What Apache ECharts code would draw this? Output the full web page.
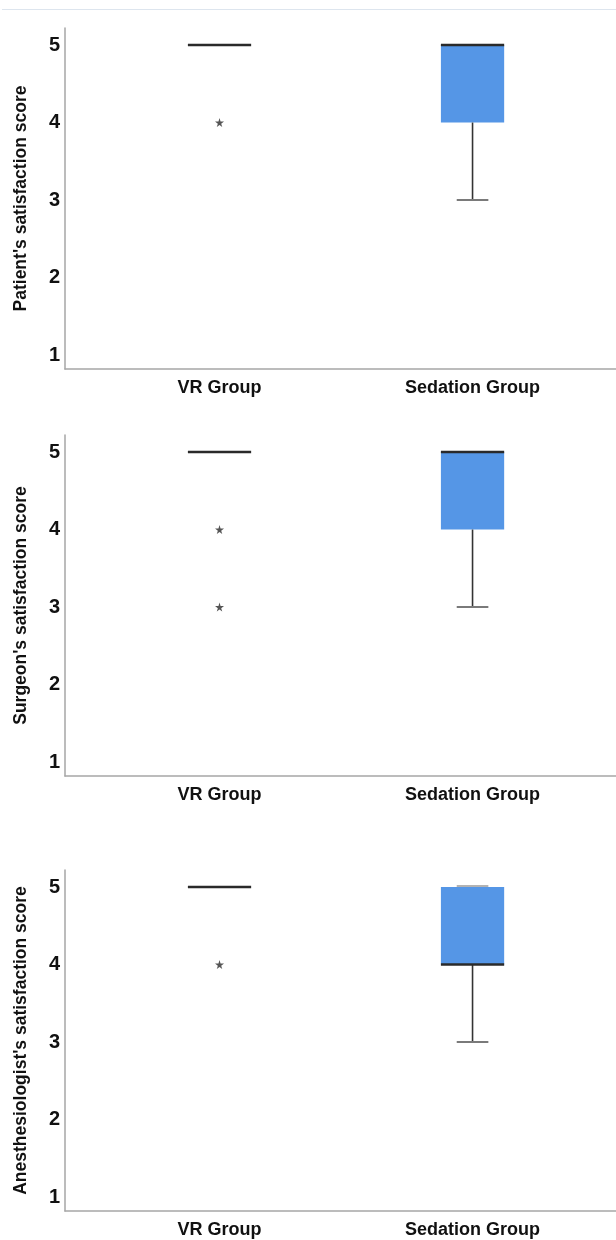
<!DOCTYPE html>
<html>
<head>
<meta charset="utf-8">
<script src="https://cdn.jsdelivr.net/npm/echarts@6/dist/echarts.min.js"></script>
<style>
html,body{margin:0;padding:0;background:#fff;}
#chart{width:616px;height:1240px;}
</style>
</head>
<body>
<div id="chart"></div>
<script>
// ---- Data ----
const categories = ['VR Group', 'Sedation Group'];
const yTicks = [1, 2, 3, 4, 5];
const panelTitles = ["Patient's satisfaction score", "Surgeon's satisfaction score", "Anesthesiologist's satisfaction score"];

// box stats: [min, Q1, median, Q3, max] per category
const patientBoxes = [[5, 5, 5, 5, 5], [3, 4, 5, 5, 5]];
const surgeonBoxes = [[5, 5, 5, 5, 5], [3, 4, 5, 5, 5]];
const anesthBoxes = [[5, 5, 5, 5, 5], [3, 4, 4, 5, 5]];

// extreme outliers (*) : [category, value]
const patientExtremes = [['VR Group', 4]];
const surgeonExtremes = [['VR Group', 4], ['VR Group', 3]];
const anesthExtremes = [['VR Group', 4]];

// outliers (o) : [category, value]
const patientOutliers = [];
const surgeonOutliers = [['Sedation Group', 2]];
const anesthOutliers = [];

// ---- Layout ----
const panels = [
  { top: 28, boxes: patientBoxes, ext: patientExtremes, out: patientOutliers },
  { top: 435, boxes: surgeonBoxes, ext: surgeonExtremes, out: surgeonOutliers },
  { top: 870, boxes: anesthBoxes, ext: anesthExtremes, out: anesthOutliers }
];
const gridH = 341;
const FONT = "'Liberation Sans', Arial, sans-serif";
const BOX_COLOR = '#5596e6';

const catPos = name => categories.indexOf(name) + 1;

function renderBox(params, api) {
  const x = api.value(0);
  const mn = api.value(1), q1 = api.value(2), med = api.value(3), q3 = api.value(4), mx = api.value(5);
  const bw = api.size([1, 0])[0] * 0.25;
  const cw = bw / 2;
  const pMin = api.coord([x, mn]), pQ1 = api.coord([x, q1]), pMed = api.coord([x, med]);
  const pQ3 = api.coord([x, q3]), pMax = api.coord([x, mx]);
  const cx = pMed[0];
  const children = [];
  if (pQ1[1] - pQ3[1] > 0.5) {
    children.push({ type: 'rect', shape: { x: cx - bw / 2, y: pQ3[1], width: bw, height: pQ1[1] - pQ3[1] },
      style: { fill: BOX_COLOR, stroke: null } });
  }
  if (pMin[1] - pQ1[1] > 0.5) {
    children.push({ type: 'line', shape: { x1: cx, y1: pQ1[1], x2: cx, y2: pMin[1] }, style: { stroke: '#333', lineWidth: 1.6 } });
  }
  if (pQ3[1] - pMax[1] > 0.5) {
    children.push({ type: 'line', shape: { x1: cx, y1: pQ3[1], x2: cx, y2: pMax[1] }, style: { stroke: '#333', lineWidth: 1.6 } });
  }
  if (mn !== med) {
    children.push({ type: 'line', shape: { x1: cx - cw / 2, y1: pMin[1], x2: cx + cw / 2, y2: pMin[1] }, style: { stroke: '#7a7a7a', lineWidth: 2 } });
  }
  if (mx !== med) {
    children.push({ type: 'line', shape: { x1: cx - cw / 2, y1: pMax[1] - 1, x2: cx + cw / 2, y2: pMax[1] - 1 }, style: { stroke: '#9a9a9a', lineWidth: 1.5 } });
  }
  children.push({ type: 'line', shape: { x1: cx - bw / 2, y1: pMed[1], x2: cx + bw / 2, y2: pMed[1] }, style: { stroke: '#2a2a2a', lineWidth: 2.6 } });
  return { type: 'group', children };
}

const grid = [], xAxis = [], yAxis = [], series = [];
panels.forEach((p, i) => {
  grid.push({ left: 65, right: 0, top: p.top, height: gridH, containLabel: false });
  xAxis.push({
    type: 'value', gridIndex: i, min: 0.3893, max: 2.567,
    axisLine: { show: true, onZero: false, lineStyle: { color: '#a6a6a6', width: 1.5 } },
    axisTick: { show: false }, splitLine: { show: false },
    axisLabel: { customValues: [1, 2], formatter: v => categories[Math.round(v) - 1] || '',
      color: '#111', fontWeight: 'bold', fontSize: 18, fontFamily: FONT, margin: 10 }
  });
  yAxis.push({
    type: 'value', gridIndex: i, min: 0.82, max: 5.22,
    name: panelTitles[i], nameLocation: 'middle', nameGap: 35,
    nameTextStyle: { color: '#111', fontWeight: 'bold', fontSize: 17.5, fontFamily: FONT },
    axisLine: { show: true, onZero: false, lineStyle: { color: '#a6a6a6', width: 1.5 } },
    axisTick: { show: false }, splitLine: { show: false },
    axisLabel: { customValues: yTicks, color: '#111', fontWeight: 'bold', fontSize: 20, fontFamily: FONT, margin: 5 }
  });
  series.push({
    type: 'custom', xAxisIndex: i, yAxisIndex: i, renderItem: renderBox, silent: true,
    dimensions: ['x', 'min', 'q1', 'med', 'q3', 'max'],
    encode: { x: 0, y: [1, 2, 3, 4, 5] },
    data: p.boxes.map((b, k) => [k + 1].concat(b)), z: 2
  });
  series.push({
    type: 'scatter', xAxisIndex: i, yAxisIndex: i, silent: true, z: 3,
    symbol: 'path://M50 0L61 35H98L68 57L79 91L50 70L21 91L32 57L2 35H39Z', symbolSize: 9,
    itemStyle: { color: '#2a2a2a' },
    data: p.ext.map(d => [catPos(d[0]), d[1]])
  });
  series.push({
    type: 'scatter', xAxisIndex: i, yAxisIndex: i, silent: true, z: 3,
    symbol: 'emptyCircle', symbolSize: 6,
    itemStyle: { color: '#fff', borderColor: '#555', borderWidth: 1.5 },
    data: p.out.map(d => [catPos(d[0]), d[1]])
  });
});

const chart = echarts.init(document.getElementById('chart'), null, { renderer: 'canvas' });
chart.setOption({
  animation: false,
  backgroundColor: '#fff',
  graphic: [{ type: 'line', shape: { x1: 2, y1: 9.5, x2: 616, y2: 9.5 }, style: { stroke: '#dde5ee', lineWidth: 1 } }],
  grid, xAxis, yAxis, series
});
</script>
</body>
</html>
